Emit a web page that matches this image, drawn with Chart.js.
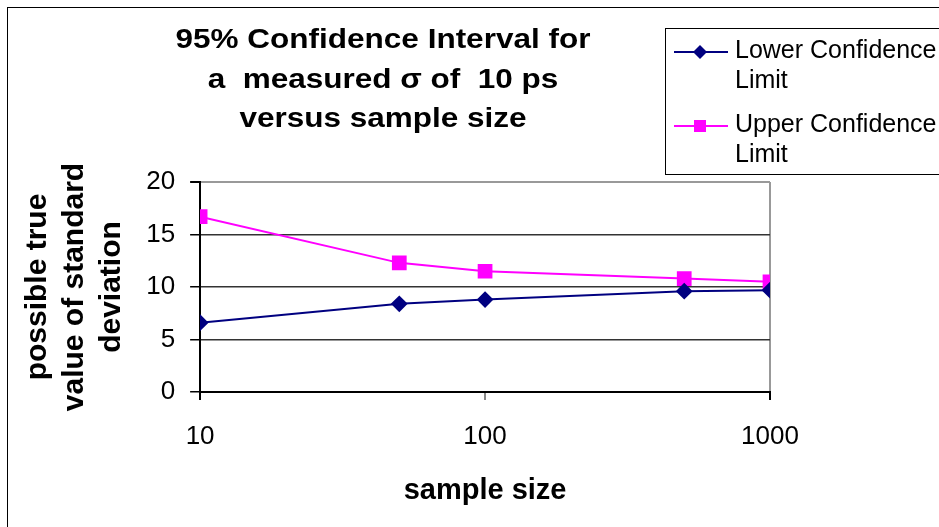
<!DOCTYPE html>
<html>
<head>
<meta charset="utf-8">
<script src="https://cdn.jsdelivr.net/npm/chart.js@4.4.1/dist/chart.umd.min.js"></script>
<style>
  body { margin: 0; background: #fff; }
  canvas { display: block; }
</style>
</head>
<body>
<canvas id="ci" width="939" height="527"></canvas>
<script>
// values
const sampleSizes = [10, 50, 100, 500, 1000];
const lowerLimit = [6.6, 8.4, 8.8, 9.6, 9.7];
const upperLimit = [16.7, 12.3, 11.5, 10.8, 10.5];
const xTickValues = [10, 100, 1000];
const yTickStep = 5;

const seriesNames = ["Lower Confidence Limit", "Upper Confidence Limit"];
const titleLines = ["95% Confidence Interval for", "a  measured \u03c3 of  10 ps", "versus sample size"];
const yTitleLines = ["possible true", "value of standard", "deviation"];
const xTitle = "sample size";

const FONT = "'Liberation Sans', Arial, Helvetica, sans-serif";
Chart.defaults.font.family = FONT;
Chart.defaults.color = "#000";

const toPoints = (vals) => sampleSizes.map((x, i) => ({ x: x, y: vals[i] }));

// title, legend box and outer frame drawn by hand, like the Excel original
const decorations = {
  id: "decorations",
  afterDraw(chart) {
    const ctx = chart.ctx;
    ctx.save();
    ctx.strokeStyle = "#000";
    ctx.lineWidth = 1;
    ctx.strokeRect(7.5, 7.5, 1000, 1000);

    // title is a bit wider than plain Arial in the original
    ctx.fillStyle = "#000";
    ctx.textAlign = "center";
    ctx.textBaseline = "alphabetic";
    ctx.font = "bold 28px " + FONT;
    titleLines.forEach((t, i) => {
      ctx.save();
      ctx.translate(383, 48 + i * 39.5);
      ctx.scale(1.125, 1);
      ctx.fillText(t, 0, 0);
      ctx.restore();
    });

    // legend
    ctx.strokeRect(665.5, 28.5, 400, 146);
    const ds = chart.data.datasets;
    const rows = [52, 126];
    ds.forEach((d, i) => {
      const y = rows[i];
      ctx.strokeStyle = d.borderColor;
      ctx.lineWidth = 2;
      ctx.beginPath();
      ctx.moveTo(674, y);
      ctx.lineTo(728, y);
      ctx.stroke();
      ctx.fillStyle = d.pointBackgroundColor;
      ctx.beginPath();
      if (d.pointStyle === "rectRot") {
        ctx.moveTo(700, y - 7); ctx.lineTo(707, y); ctx.lineTo(700, y + 7); ctx.lineTo(693, y);
      } else {
        ctx.rect(694, y - 6, 12, 12);
      }
      ctx.closePath();
      ctx.fill();
      ctx.fillStyle = "#000";
      ctx.textAlign = "left";
      ctx.font = "25px " + FONT;
      const words = d.label.split(" ");
      ctx.fillText(words.slice(0, 2).join(" "), 735, y + 6);
      ctx.fillText(words.slice(2).join(" "), 735, y + 36);
    });
    ctx.restore();
  }
};

new Chart(document.getElementById("ci"), {
  type: "line",
  data: {
    datasets: [
      {
        label: seriesNames[0],
        data: toPoints(lowerLimit),
        borderColor: "#000080",
        backgroundColor: "#000080",
        pointBackgroundColor: "#000080",
        pointBorderColor: "#000080",
        pointStyle: "rectRot",
        pointRadius: 7,
        borderWidth: 2,
        tension: 0
      },
      {
        label: seriesNames[1],
        data: toPoints(upperLimit),
        borderColor: "#ff00ff",
        backgroundColor: "#ff00ff",
        pointBackgroundColor: "#ff00ff",
        pointBorderColor: "#ff00ff",
        pointStyle: "rect",
        pointRadius: 9,
        borderWidth: 2,
        tension: 0
      }
    ]
  },
  options: {
    responsive: false,
    animation: false,
    devicePixelRatio: 1,
    layout: { padding: { left: 10, top: 182, right: 169, bottom: 0 } },
    plugins: {
      legend: { display: false },
      tooltip: { enabled: false }
    },
    scales: {
      x: {
        type: "logarithmic",
        min: 10,
        max: 1000,
        afterBuildTicks: (scale) => {
          scale.ticks = xTickValues.map((v) => ({ value: v }));
        },
        ticks: {
          font: { size: 26 },
          color: "#000",
          padding: 21,
          maxRotation: 0,
          callback: (v) => String(v)
        },
        grid: {
          drawOnChartArea: true,
          color: (c) => (c.tick && c.tick.value === 1000 ? "#999" : "transparent"),
          tickColor: (c) => (c.tick && c.tick.value === 100 ? "#888" : "#000"),
          tickLength: 8,
          lineWidth: 2
        },
        border: { color: "#000", width: 2 },
        title: {
          display: true,
          text: xTitle,
          font: { size: 29, weight: "bold" },
          color: "#000",
          padding: { top: 0, bottom: 19 }
        }
      },
      y: {
        min: 0,
        max: 20,
        ticks: { stepSize: yTickStep, font: { size: 26 }, color: "#000", padding: 15 },
        grid: {
          color: (c) => (c.tick && c.tick.value === 20 ? "#999" : "#333"),
          tickColor: "#000",
          tickLength: 10,
          lineWidth: (c) => (c.tick && c.tick.value === 20 ? 2 : 1.5)
        },
        border: { color: "#000", width: 2 },
        title: {
          display: true,
          text: yTitleLines,
          font: { size: 30, weight: "bold", lineHeight: 1.23 },
          color: "#000",
          padding: { top: 9.5, bottom: 1 }
        }
      }
    }
  },
  plugins: [decorations]
});
</script>
</body>
</html>
